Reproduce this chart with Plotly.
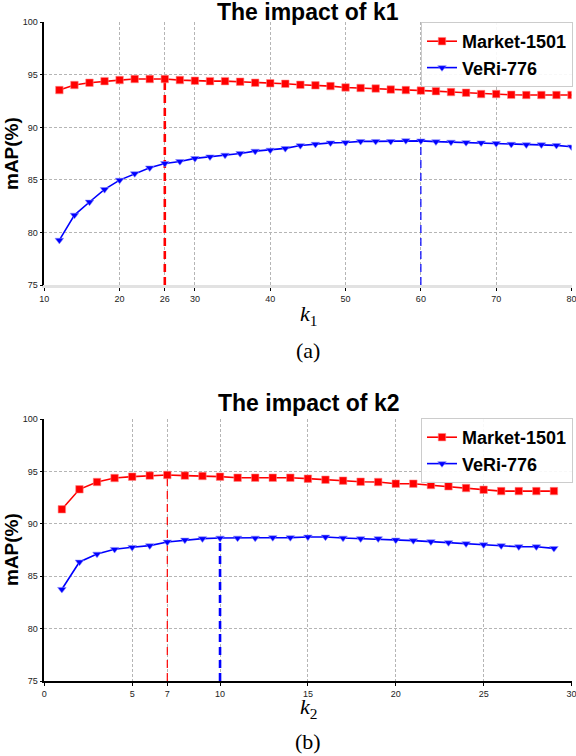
import plotly.graph_objects as go

# ---- data ----
k1 = list(range(12, 81, 2))
market_k1 = [93.55, 94.03, 94.25, 94.4, 94.5, 94.6, 94.6, 94.6, 94.5, 94.44,
             94.4, 94.4, 94.35, 94.25, 94.2, 94.15, 94.05, 94.0, 93.93, 93.8,
             93.75, 93.7, 93.6, 93.55, 93.5, 93.45, 93.36, 93.3, 93.17, 93.17,
             93.1, 93.08, 93.08, 93.08, 93.08]
veri_k1 = [79.27, 81.65, 82.9, 84.1, 84.98, 85.6, 86.15, 86.57, 86.76, 87.05,
           87.2, 87.36, 87.52, 87.74, 87.84, 88.0, 88.27, 88.4, 88.53, 88.56,
           88.67, 88.67, 88.67, 88.74, 88.72, 88.64, 88.6, 88.56, 88.53, 88.47,
           88.4, 88.35, 88.35, 88.29, 88.15]

k2 = list(range(1, 30))
market_k2 = [91.4, 93.31, 94.01, 94.39, 94.52, 94.62, 94.68, 94.62, 94.58, 94.52,
             94.42, 94.42, 94.42, 94.42, 94.33, 94.23, 94.14, 94.04, 94.01, 93.85,
             93.85, 93.72, 93.6, 93.43, 93.27, 93.14, 93.14, 93.14, 93.14]
veri_k2 = [83.76, 86.37, 87.13, 87.58, 87.77, 87.93, 88.28, 88.47, 88.6, 88.66,
           88.66, 88.66, 88.7, 88.7, 88.76, 88.76, 88.66, 88.6, 88.6, 88.47,
           88.41, 88.31, 88.22, 88.12, 88.02, 87.93, 87.83, 87.83, 87.67]

best_k1_market = 26
best_k1_veri = 60
best_k2_market = 7
best_k2_veri = 10

k1_ticks = [10, 20, 26, 30, 40, 50, 60, 70, 80]
k2_ticks = [0, 5, 7, 10, 15, 20, 25, 30]
map_ticks = [75, 80, 85, 90, 95, 100]
y_min = 75

RED = "#ff0000"
BLUE = "#0000ff"
W, H = 576, 756


def px_x(p):
    return p / W


def px_y(p):
    return 1 - p / H


fig = go.Figure()


def add_series(xs, ys, name, color, symbol, xa, ya, legend):
    edge = "rgba(255,140,140,0.7)" if color == RED else "rgba(140,140,255,0.7)"
    fig.add_trace(go.Scatter(
        x=xs, y=ys, name="<b>" + name + "</b>", mode="lines+markers",
        line=dict(color=color, width=1.6),
        marker=dict(symbol=symbol, size=7.5, color=color, line=dict(color=edge, width=0.8)),
        xaxis=xa, yaxis=ya, legend=legend,
    ))


def add_marker_line(xs, ys, at, color, width, xa, ya):
    top = ys[xs.index(at)]
    fig.add_trace(go.Scatter(
        x=[at, at], y=[y_min, top], mode="lines",
        line=dict(color=color, width=width, dash="8px,5px"),
        showlegend=False, hoverinfo="skip", xaxis=xa, yaxis=ya,
    ))


# top panel
add_marker_line(k1, market_k1, best_k1_market, RED, 2.6, "x", "y")
add_marker_line(k1, veri_k1, best_k1_veri, BLUE, 1.2, "x", "y")
add_series(k1, market_k1, "Market-1501", RED, "square", "x", "y", "legend")
add_series(k1, veri_k1, "VeRi-776", BLUE, "triangle-down", "x", "y", "legend")

# bottom panel
add_marker_line(k2, market_k2, best_k2_market, RED, 1.2, "x2", "y2")
add_marker_line(k2, veri_k2, best_k2_veri, BLUE, 2.6, "x2", "y2")
add_series(k2, market_k2, "Market-1501", RED, "square", "x2", "y2", "legend2")
add_series(k2, veri_k2, "VeRi-776", BLUE, "triangle-down", "x2", "y2", "legend2")

tickfont = dict(family="Liberation Sans, Arial", size=9, color="#222")
grid = dict(showgrid=True, gridcolor="#b5b5b5", gridwidth=1, griddash="3px,2px")

xdom = [px_x(44.3), px_x(571.5)]
common_x = dict(ticks="outside", ticklen=3, tickcolor="#000", tickfont=tickfont,
                ticklabeloverflow="allow", zeroline=False, showline=True,
                mirror=False, automargin=False, **grid)
common_y = dict(range=[75, 100], tickvals=map_ticks, ticks="outside", ticklen=3,
                tickcolor="#000", tickfont=tickfont, zeroline=False, automargin=False,
                showline=True, linecolor="#000", linewidth=1.5, **grid)

legend_style = dict(font=dict(family="Liberation Sans, Arial", size=18, color="#000"),
                    bgcolor="rgba(255,255,255,0.9)", bordercolor="#cccccc", borderwidth=1,
                    xanchor="left", yanchor="top", tracegroupgap=0, itemwidth=30)

fig.update_layout(
    width=W, height=H, margin=dict(l=0, r=0, t=0, b=0, autoexpand=False),
    paper_bgcolor="white", plot_bgcolor="white",
    xaxis=dict(domain=xdom, range=[10, 80], tickvals=k1_ticks,
               linecolor="#e2e2e2", linewidth=2.5, anchor="y", **common_x),
    yaxis=dict(domain=[px_y(285), px_y(22.3)], anchor="x", **common_y),
    xaxis2=dict(domain=xdom, range=[0, 30], tickvals=k2_ticks,
                linecolor="#000", linewidth=1.5, anchor="y2", **common_x),
    yaxis2=dict(domain=[px_y(681), px_y(419.3)], anchor="x2", **common_y),
    legend=dict(x=px_x(421), y=px_y(22), **legend_style),
    legend2=dict(x=px_x(421), y=px_y(418), **legend_style),
)

title_font = dict(family="Liberation Sans, Arial", size=23, color="#000")
label_font = dict(family="Liberation Sans, Arial", size=19, color="#000")
serif_font = dict(family="Liberation Serif, DejaVu Serif", size=22, color="#000")

annotations = [
    ("<b>The impact of k1</b>", 308, 12, title_font),
    ("<b>The impact of k2</b>", 308, 403, title_font),
    ("<i>k</i><sub>1</sub>", 308, 315, serif_font),
    ("<i>k</i><sub>2</sub>", 308, 708, serif_font),
    ("(a)", 308, 350, serif_font),
    ("(b)", 308, 741, serif_font),
]
for text, x, y, font in annotations:
    fig.add_annotation(text=text, x=px_x(x), y=px_y(y), xref="paper", yref="paper",
                       showarrow=False, font=font, xanchor="center", yanchor="middle")

for y in (154, 550):
    fig.add_annotation(text="<b>mAP(%)</b>", x=px_x(11), y=px_y(y), xref="paper",
                       yref="paper", showarrow=False, font=label_font, textangle=-90,
                       xanchor="center", yanchor="middle")

# drop the browser's default 8px body margin so the figure fills the window
fig.write_html("out.html", config={"displayModeBar": False},
               post_script="document.body.style.margin='0';")
